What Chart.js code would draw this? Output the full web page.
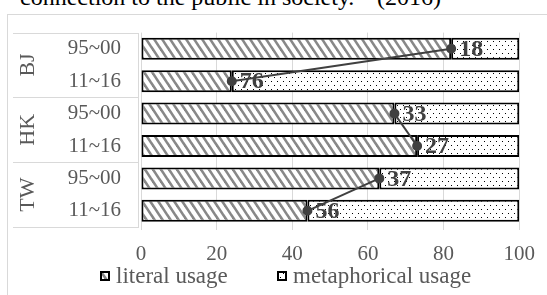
<!DOCTYPE html>
<html>
<head>
<meta charset="utf-8">
<script src="https://cdn.jsdelivr.net/npm/chart.js@4.4.0/dist/chart.umd.min.js"></script>
<style>
  html, body { margin: 0; padding: 0; background: #fff; overflow: hidden; }
  #wrap { position: relative; width: 547px; height: 295px; overflow: hidden; }
  #frame { position: absolute; left: 7px; top: 14px; width: 600px; height: 400px; border: 1px solid #d9d9d9; }
  #title { position: absolute; left: 20px; top: -16px; font: 24px "Liberation Serif", serif; color: #000; white-space: nowrap; }
  canvas { position: absolute; left: 0; top: 0; }
</style>
</head>
<body>
<div id="wrap">
  <div id="frame"></div>
  <div id="title">connection to the public in society.”&nbsp; (2016)</div>
  <canvas id="usageChart" width="547" height="295"></canvas>
</div>
<script>
const groups = ['BJ', 'HK', 'TW'];
const categories = ['95~00', '11~16', '95~00', '11~16', '95~00', '11~16'];
const literal = [82, 24, 67, 73, 63, 44];
const metaphorical = [18, 76, 33, 27, 37, 56];
const seriesNames = ['literal usage', 'metaphorical usage'];

const SERIF = '"Liberation Serif", "Times New Roman", serif';

function hatchPattern() {
  const c = document.createElement('canvas');
  c.width = 8; c.height = 12;
  const g = c.getContext('2d');
  g.fillStyle = '#fff';
  g.fillRect(0, 0, 8, 12);
  g.strokeStyle = '#888';
  g.lineWidth = 2.6;
  for (let dx = -16; dx <= 16; dx += 8) {
    g.beginPath();
    g.moveTo(dx - 8, -12);
    g.lineTo(dx + 16, 24);
    g.stroke();
  }
  return g.createPattern(c, 'repeat');
}

function dotPattern() {
  const c = document.createElement('canvas');
  c.width = 6; c.height = 8;
  const g = c.getContext('2d');
  g.fillStyle = '#fff';
  g.fillRect(0, 0, 6, 8);
  g.fillStyle = '#000';
  g.fillRect(1, 1, 1, 1);
  g.fillRect(4, 5, 1, 1);
  return g.createPattern(c, 'repeat');
}

// value labels at the left of the metaphorical segment
const barLabels = {
  id: 'barLabels',
  afterDatasetDraw(chart, args) {
    if (args.index !== 1) return;
    const ctx = chart.ctx;
    ctx.save();
    ctx.font = 'bold 24px ' + SERIF;
    ctx.fillStyle = '#404040';
    ctx.textBaseline = 'middle';
    args.meta.data.forEach((bar, i) => {
      ctx.fillText(metaphorical[i], bar.base + 8, bar.y + 1);
    });
    ctx.restore();
  }
};

// group labels (BJ/HK/TW) and the light table lines on the left
const groupTable = {
  id: 'groupTable',
  afterDraw(chart) {
    const { ctx, chartArea } = chart;
    const y = chart.scales.y;
    const step = y.getPixelForValue(1) - y.getPixelForValue(0);
    const top = y.getPixelForValue(0) - step / 2;
    const right = chartArea.left - 3;
    ctx.save();
    ctx.strokeStyle = '#d9d9d9';
    ctx.lineWidth = 1;
    ctx.beginPath();
    for (let g = 0; g <= groups.length; g++) {
      const yy = Math.round(top + g * 2 * step) + 0.5;
      ctx.moveTo(13, yy);
      ctx.lineTo(right, yy);
    }
    ctx.moveTo(right + 0.5, Math.round(top));
    ctx.lineTo(right + 0.5, Math.round(top + 6 * step) + 1);
    ctx.stroke();

    ctx.font = '22px ' + SERIF;
    ctx.fillStyle = '#595959';
    ctx.textAlign = 'center';
    ctx.textBaseline = 'middle';
    groups.forEach((name, g) => {
      ctx.save();
      ctx.translate(27, top + (g * 2 + 1) * step);
      ctx.rotate(-Math.PI / 2);
      ctx.fillText(name, 0, 1);
      ctx.restore();
    });
    ctx.restore();
  }
};

const bottomLegend = {
  id: 'bottomLegend',
  afterDraw(chart) {
    const ctx = chart.ctx;
    const pos = [100, 277];
    ctx.save();
    ctx.font = '23px ' + SERIF;
    ctx.textBaseline = 'middle';
    seriesNames.forEach((name, i) => {
      const x = pos[i], y = 276;
      ctx.fillStyle = chart.data.datasets[i].backgroundColor;
      ctx.fillRect(x, y - 5, 10, 10);
      ctx.strokeStyle = '#000';
      ctx.lineWidth = 2;
      ctx.strokeRect(x + 1, y - 4, 8, 8);
      ctx.fillStyle = '#595959';
      ctx.fillText(name, x + 16, y + 1);
    });
    ctx.restore();
  }
};

new Chart(document.getElementById('usageChart'), {
  data: {
    labels: categories,
    datasets: [
      {
        type: 'bar',
        label: seriesNames[0],
        data: literal,
        backgroundColor: hatchPattern(),
        borderColor: '#000',
        borderWidth: 2,
        borderSkipped: false,
        stack: 'usage',
        order: 1
      },
      {
        type: 'bar',
        label: seriesNames[1],
        data: metaphorical,
        backgroundColor: dotPattern(),
        borderColor: '#000',
        borderWidth: 2,
        borderSkipped: false,
        stack: 'usage',
        order: 1
      },
      {
        type: 'line',
        label: 'boundary',
        data: literal,
        stack: 'line',
        borderColor: '#404040',
        borderWidth: 2,
        pointRadius: 4,
        pointBackgroundColor: '#404040',
        pointBorderColor: '#404040',
        segment: {
          borderColor: ctx => (ctx.p0DataIndex % 2 === 1 ? 'transparent' : '#404040')
        },
        order: 0
      }
    ]
  },
  options: {
    indexAxis: 'y',
    responsive: false,
    animation: false,
    layout: { padding: { top: 27, right: 26, bottom: 0, left: 0 } },
    datasets: {
      bar: { categoryPercentage: 1, barPercentage: 0.68 }
    },
    plugins: {
      legend: { display: false },
      tooltip: { enabled: false }
    },
    scales: {
      x: {
        stacked: true,
        min: 0,
        max: 100,
        ticks: {
          stepSize: 20,
          padding: 12,
          color: '#595959',
          font: { family: SERIF, size: 21 }
        },
        grid: { color: '#d9d9d9', tickLength: 3 },
        border: { display: false },
        afterFit: scale => { scale.height = 68; }
      },
      y: {
        stacked: true,
        ticks: {
          padding: 20,
          color: '#595959',
          font: { family: SERIF, size: 21 }
        },
        grid: { display: false, drawTicks: false },
        border: { display: false },
        afterFit: scale => { scale.width = 141; }
      }
    }
  },
  plugins: [barLabels, groupTable, bottomLegend]
});
</script>
</body>
</html>
